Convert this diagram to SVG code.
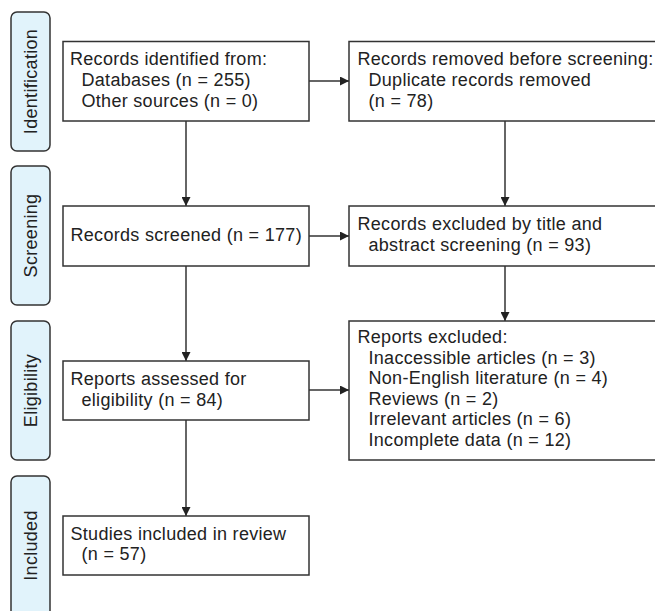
<svg xmlns="http://www.w3.org/2000/svg" width="655" height="611" viewBox="0 0 655 611">
<defs>
<style>
.phase{fill:#e1f3fb;stroke:#333;stroke-width:1.5}
.box{fill:#fff;stroke:#333;stroke-width:1.5}
.t{font-family:"Liberation Sans",Arial,sans-serif;font-size:18px;letter-spacing:0.3px;fill:#222}
.c{stroke:#333;stroke-width:1.5;fill:none;marker-end:url(#ah)}
</style>
<marker id="ah" viewBox="0 0 10 10" refX="10" refY="5" markerWidth="10" markerHeight="9" markerUnits="userSpaceOnUse" orient="auto">
<path d="M0,0 L10,5 L0,10 z" fill="#222"/>
</marker>
</defs>
<rect width="655" height="611" fill="#fff"/>
<g id="phase-identification">
<rect class="phase" x="11" y="12" width="39" height="139" rx="6"/>
<text class="t" text-anchor="middle" transform="translate(37,81.5) rotate(-90)">Identification</text>
</g>
<g id="phase-screening">
<rect class="phase" x="11" y="166" width="39" height="139" rx="6"/>
<text class="t" text-anchor="middle" transform="translate(37,235.5) rotate(-90)">Screening</text>
</g>
<g id="phase-eligibility">
<rect class="phase" x="11" y="321" width="39" height="139" rx="6"/>
<text class="t" text-anchor="middle" transform="translate(37,390.5) rotate(-90)">Eligibility</text>
</g>
<g id="phase-included">
<rect class="phase" x="11" y="476" width="39" height="150" rx="6"/>
<text class="t" text-anchor="middle" transform="translate(37,545.5) rotate(-90)">Included</text>
</g>
<g id="connectors">
<line class="c" x1="186" y1="121" x2="186" y2="206"/>
<line class="c" x1="309" y1="81" x2="349" y2="81"/>
<line class="c" x1="505" y1="121" x2="505" y2="206"/>
<line class="c" x1="309" y1="236" x2="349" y2="236"/>
<line class="c" x1="186" y1="266" x2="186" y2="361"/>
<line class="c" x1="505" y1="266" x2="505" y2="321"/>
<line class="c" x1="309" y1="390" x2="349" y2="390"/>
<line class="c" x1="186" y1="420" x2="186" y2="516"/>
</g>
<g id="node-identified">
<rect class="box" x="63" y="41.5" width="246" height="79.5"/>
<text class="t" x="70" y="65">Records identified from:</text>
<text class="t" x="81.5" y="86">Databases (n = 255)</text>
<text class="t" x="81.5" y="106.5">Other sources (n = 0)</text>
</g>
<g id="node-removed">
<rect class="box" x="349" y="41.5" width="320" height="79.5"/>
<text class="t" x="357.5" y="65">Records removed before screening:</text>
<text class="t" x="368.5" y="86">Duplicate records removed</text>
<text class="t" x="368.5" y="106.5">(n = 78)</text>
</g>
<g id="node-screened">
<rect class="box" x="63" y="206" width="246" height="60"/>
<text class="t" x="70.5" y="241">Records screened (n = 177)</text>
</g>
<g id="node-excluded-title">
<rect class="box" x="349" y="206" width="320" height="60"/>
<text class="t" x="357.5" y="230">Records excluded by title and</text>
<text class="t" x="368.5" y="250.5">abstract screening (n = 93)</text>
</g>
<g id="node-assessed">
<rect class="box" x="63" y="361" width="246" height="59"/>
<text class="t" x="70.5" y="385">Reports assessed for</text>
<text class="t" x="81.5" y="406">eligibility (n = 84)</text>
</g>
<g id="node-reports-excluded">
<rect class="box" x="349" y="321" width="320" height="139"/>
<text class="t" x="357.5" y="343">Reports excluded:</text>
<text class="t" x="368.5" y="363.5">Inaccessible articles (n = 3)</text>
<text class="t" x="368.5" y="384">Non-English literature (n = 4)</text>
<text class="t" x="368.5" y="404.5">Reviews (n = 2)</text>
<text class="t" x="368.5" y="425">Irrelevant articles (n = 6)</text>
<text class="t" x="368.5" y="445.5">Incomplete data (n = 12)</text>
</g>
<g id="node-included">
<rect class="box" x="63" y="516" width="246" height="59"/>
<text class="t" x="70.5" y="539.5">Studies included in review</text>
<text class="t" x="81.5" y="560">(n = 57)</text>
</g>
</svg>
